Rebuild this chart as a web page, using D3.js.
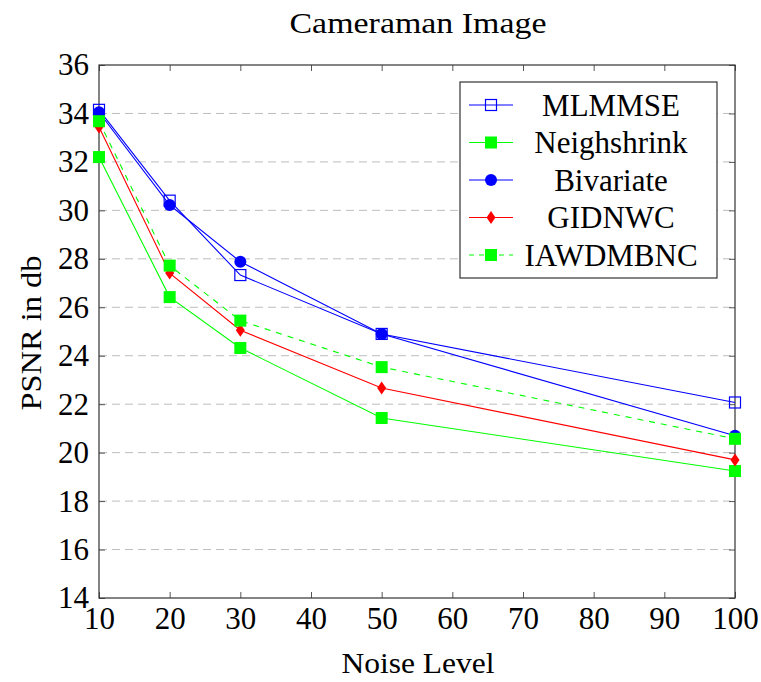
<!DOCTYPE html>
<html><head><meta charset="utf-8">
<script src="https://cdn.jsdelivr.net/npm/d3@7"></script>
<style>body{margin:0;background:#fff}svg{display:block}</style>
</head><body><svg id="c" width="761" height="682"></svg>
<script>
const noiseLevels = [10, 20, 30, 50, 100];
const yTicks = [14,16,18,20,22,24,26,28,30,32,34,36];
const xTicks = [10,20,30,40,50,60,70,80,90,100];
const seriesNames = ["MLMMSE","Neighshrink","Bivariate","GIDNWC","IAWDMBNC"];
const mlmmse = [34.15, 30.4, 27.33, 24.9, 22.07];
const neighshrink = [32.2, 26.42, 24.32, 21.43, 19.24];
const bivariate = [34.05, 30.22, 27.88, 24.9, 20.7];
const gidnwc = [33.44, 27.41, 25.05, 22.67, 19.7];
const iawdmbnc = [33.68, 27.72, 25.45, 23.53, 20.57];

const FONT = 'Liberation Serif';
const styles = [
  {color:"#0000ff", marker:"osquare", dash:null},
  {color:"#00ff00", marker:"square", dash:null},
  {color:"#0000ff", marker:"circle", dash:null},
  {color:"#ff0000", marker:"diamond", dash:null},
  {color:"#00ff00", marker:"square", dash:"6,6"}
];
const values = [mlmmse, neighshrink, bivariate, gidnwc, iawdmbnc];

const svg = d3.select("#c");
const L=99, R=735, T=65, B=598;
const x = d3.scaleLinear().domain([10,100]).range([L,R]);
const y = d3.scaleLinear().domain([14,36]).range([B,T]);

// grid
svg.append("g").selectAll("line").data(yTicks.filter(d=>d>14&&d<36)).join("line")
  .attr("x1",L).attr("x2",R).attr("y1",d=>y(d)).attr("y2",d=>y(d))
  .attr("stroke","#bdbdbd").attr("stroke-width",1).attr("stroke-dasharray","8,5");

// axes
const ax = svg.append("g");
ax.append("g").attr("transform",`translate(0,${B})`).call(d3.axisBottom(x).tickValues(xTicks).tickSize(-6).tickPadding(9).tickFormat(d3.format("d")));
ax.append("g").attr("transform",`translate(0,${T})`).call(d3.axisTop(x).tickValues(xTicks).tickSize(-6).tickFormat(""));
ax.append("g").attr("transform",`translate(${L},0)`).call(d3.axisLeft(y).tickValues(yTicks).tickSize(-6).tickPadding(10).tickFormat(d3.format("d")));
ax.append("g").attr("transform",`translate(${R},0)`).call(d3.axisRight(y).tickValues(yTicks).tickSize(-6).tickFormat(""));
ax.selectAll(".domain").remove();
ax.selectAll(".tick line").attr("stroke","#555");
ax.selectAll("g").attr("font-family",null).attr("font-size",null);
ax.selectAll(".tick text").style("font-size","31px").style("font-family",FONT).attr("fill","#000");
svg.append("rect").attr("x",L).attr("y",T).attr("width",R-L).attr("height",B-T).attr("fill","none").attr("stroke","#333").attr("stroke-width",1.2);

function drawMarker(g, type, color, cx, cy){
  if(type==="osquare") g.append("rect").attr("x",cx-5.5).attr("y",cy-5.5).attr("width",11).attr("height",11).attr("fill","none").attr("stroke",color).attr("stroke-width",1.2);
  else if(type==="square") g.append("rect").attr("x",cx-6).attr("y",cy-6).attr("width",12).attr("height",12).attr("fill",color);
  else if(type==="circle") g.append("circle").attr("cx",cx).attr("cy",cy).attr("r",6).attr("fill",color);
  else if(type==="diamond") g.append("path").attr("d",`M${cx},${cy-6.5}L${cx+4.5},${cy}L${cx},${cy+6.5}L${cx-4.5},${cy}Z`).attr("fill",color);
}

const line = d3.line().x((d,i)=>x(noiseLevels[i])).y(d=>y(d));
values.forEach((vals,k)=>{
  const s = styles[k];
  const g = svg.append("g");
  g.append("path").attr("d",line(vals)).attr("fill","none").attr("stroke",s.color).attr("stroke-width",1.1).attr("stroke-dasharray",s.dash);
  vals.forEach((v,i)=>drawMarker(g,s.marker,s.color,x(noiseLevels[i]),y(v)));
});

// legend
const lg = svg.append("g");
lg.append("rect").attr("x",460).attr("y",82).attr("width",257).attr("height",196).attr("fill","#fff").attr("stroke","#333").attr("stroke-width",1.2);
seriesNames.forEach((n,k)=>{
  const s = styles[k];
  const yy = 105 + k*37.5;
  lg.append("line").attr("x1",469).attr("x2",513).attr("y1",yy).attr("y2",yy).attr("stroke",s.color).attr("stroke-width",1.1).attr("stroke-dasharray",s.dash?"5,5":null);
  drawMarker(lg,s.marker,s.color,491,yy);
  lg.append("text").attr("x",611).attr("y",yy).attr("dy","0.35em").attr("text-anchor","middle")
    .style("font-family",FONT).style("font-size","31px").text(n);
});

function label(txt, xx, yy, len, rot){
  const t = svg.append("text").style("font-family",FONT).style("font-size","30px").attr("text-anchor","middle")
    .attr("dy","0.35em").attr("textLength",len).attr("lengthAdjust","spacingAndGlyphs").text(txt);
  if(rot) t.attr("transform",`translate(${xx},${yy}) rotate(-90)`);
  else t.attr("x",xx).attr("y",yy);
}
label("Cameraman Image", 418, 22, 257);
label("Noise Level", 418, 662, 153);
label("PSNR in db", 30, 333, 155, true);
</script></body></html>
